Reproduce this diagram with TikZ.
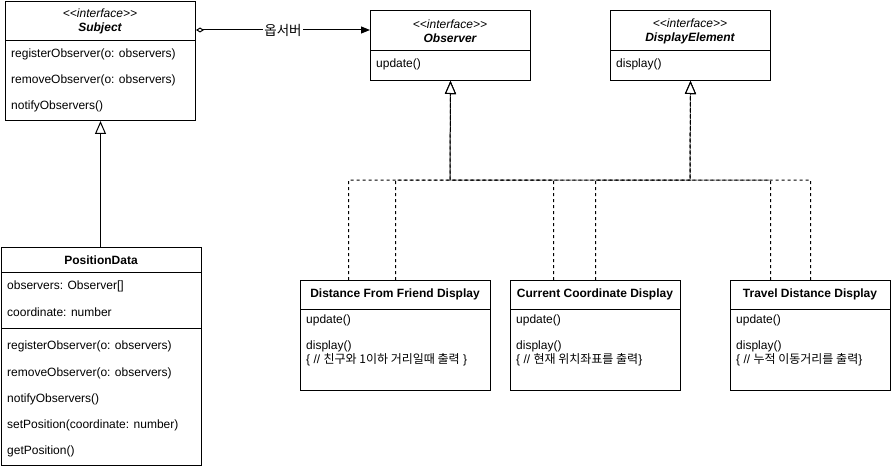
\documentclass[tikz,border=0pt]{standalone}
\usepackage{fontspec}
\setmainfont{Liberation Sans}
\newfontfamily\kr{Noto Sans CJK KR}
\usetikzlibrary{arrows.meta}
\begin{document}
\begin{tikzpicture}[x=1pt,y=-1pt,
  font=\fontsize{12}{14}\selectfont,
  cls/.style={draw, line width=1pt, anchor=north west, inner sep=0pt},
  txt/.style={anchor=west, inner sep=0pt, align=left},
  hdr/.style={anchor=center, inner sep=0pt, align=center},
  divider/.style={line width=1pt},
  gen/.style={line width=1pt, -{Triangle[length=13pt,width=11pt,fill=white]}},
  impl/.style={line width=1pt, dash pattern=on 3pt off 3pt, -{Triangle[length=13pt,width=11pt,fill=white]}},
  assoc/.style={line width=1pt, {Diamond[length=8pt,width=5pt,fill=white]}-{Triangle[length=9pt,width=7pt]}},
]
\useasboundingbox (0,0) rectangle (891,468);

% Subject
\node[cls, minimum width=190pt, minimum height=119pt] (subject) at (5,1) {};
\draw[divider] (5,41) -- (195,41);
\node[hdr] (subjecthdr) at (100,21) {\itshape <{}<interface>{}>\\\bfseries\itshape Subject};
\node[txt] (s1) at (11,54) {registerObserver(o: observers)};
\node[txt] (s2) at (11,80) {removeObserver(o: observers)};
\node[txt] (s3) at (11,106) {notifyObservers()};

% Observer
\node[cls, minimum width=160pt, minimum height=70pt] (obs) at (370,10) {};
\draw[divider] (370,51) -- (530,51);
\node[hdr] (obshdr) at (450,31) {\itshape <{}<interface>{}>\\\bfseries\itshape Observer};
\node[txt] (o1) at (376,64) {update()};

% DisplayElement
\node[cls, minimum width=160pt, minimum height=70pt] (disp) at (610,10) {};
\draw[divider] (610,51) -- (770,51);
\node[hdr] (disphdr) at (690,31) {\itshape <{}<interface>{}>\\\bfseries\itshape DisplayElement};
\node[txt] (de1) at (616,64) {display()};

% PositionData
\node[cls, minimum width=200pt, minimum height=218pt] (pd) at (1,247) {};
\draw[divider] (1,272) -- (201,272);
\draw[divider] (1,328) -- (201,328);
\node[hdr] (pdhdr) at (101,260) {\bfseries PositionData};
\node[txt] (p1) at (7,286) {observers: Observer[]};
\node[txt] (p2) at (7,312) {coordinate: number};
\node[txt] (p3) at (7,346) {registerObserver(o: observers)};
\node[txt] (p4) at (7,373) {removeObserver(o: observers)};
\node[txt] (p5) at (7,399) {notifyObservers()};
\node[txt] (p6) at (7,425) {setPosition(coordinate: number)};
\node[txt] (p7) at (7,451) {getPosition()};

% Distance From Friend Display
\node[cls, minimum width=190pt, minimum height=110pt] (d1) at (300,280) {};
\draw[divider] (300,309) -- (490,309);
\node[hdr] (d1hdr) at (395,294) {\bfseries Distance From Friend Display};
\node[txt] (d1a) at (306,320) {update()};
\node[txt] (d1b) at (306,353) {display()\\\{ // {\kr 친구와 1이하 거리일때 출력} \}};

% Current Coordinate Display
\node[cls, minimum width=170pt, minimum height=110pt] (d2) at (510,280) {};
\draw[divider] (510,309) -- (680,309);
\node[hdr] (d2hdr) at (595,294) {\bfseries Current Coordinate Display};
\node[txt] (d2a) at (516,320) {update()};
\node[txt] (d2b) at (516,353) {display()\\\{ // {\kr 현재 위치좌표를 출력}\}};

% Travel Distance Display
\node[cls, minimum width=160pt, minimum height=110pt] (d3) at (730,280) {};
\draw[divider] (730,309) -- (890,309);
\node[hdr] (d3hdr) at (810,294) {\bfseries Travel Distance Display};
\node[txt] (d3a) at (736,320) {update()};
\node[txt] (d3b) at (736,353) {display()\\\{ // {\kr 누적 이동거리를 출력}\}};

% connectors
\coordinate (busO) at (450,180);
\coordinate (busD) at (690,180);
\draw[gen] (pd.north -| subject.south) -- (subject.south);
\draw[assoc] ([yshift=-29pt]subject.north east) -- node[midway, fill=white, inner sep=1pt, font=\kr\fontsize{13.5}{14}\selectfont] (lbl) {옵서버} ([yshift=-20pt]obs.north west);

\draw[impl] ([xshift=-47pt]d1.north) |- (busO) -- (obs.south);
\draw[impl] (d1.north) |- (busD) -- (disp.south);
\draw[impl] ([xshift=-42pt]d2.north) |- (busO) -- (obs.south);
\draw[impl] (d2.north) |- (busD) -- (disp.south);
\draw[impl] ([xshift=-40pt]d3.north) |- (busO) -- (obs.south);
\draw[impl] (d3.north) |- (busD) -- (disp.south);
\end{tikzpicture}
\end{document}
